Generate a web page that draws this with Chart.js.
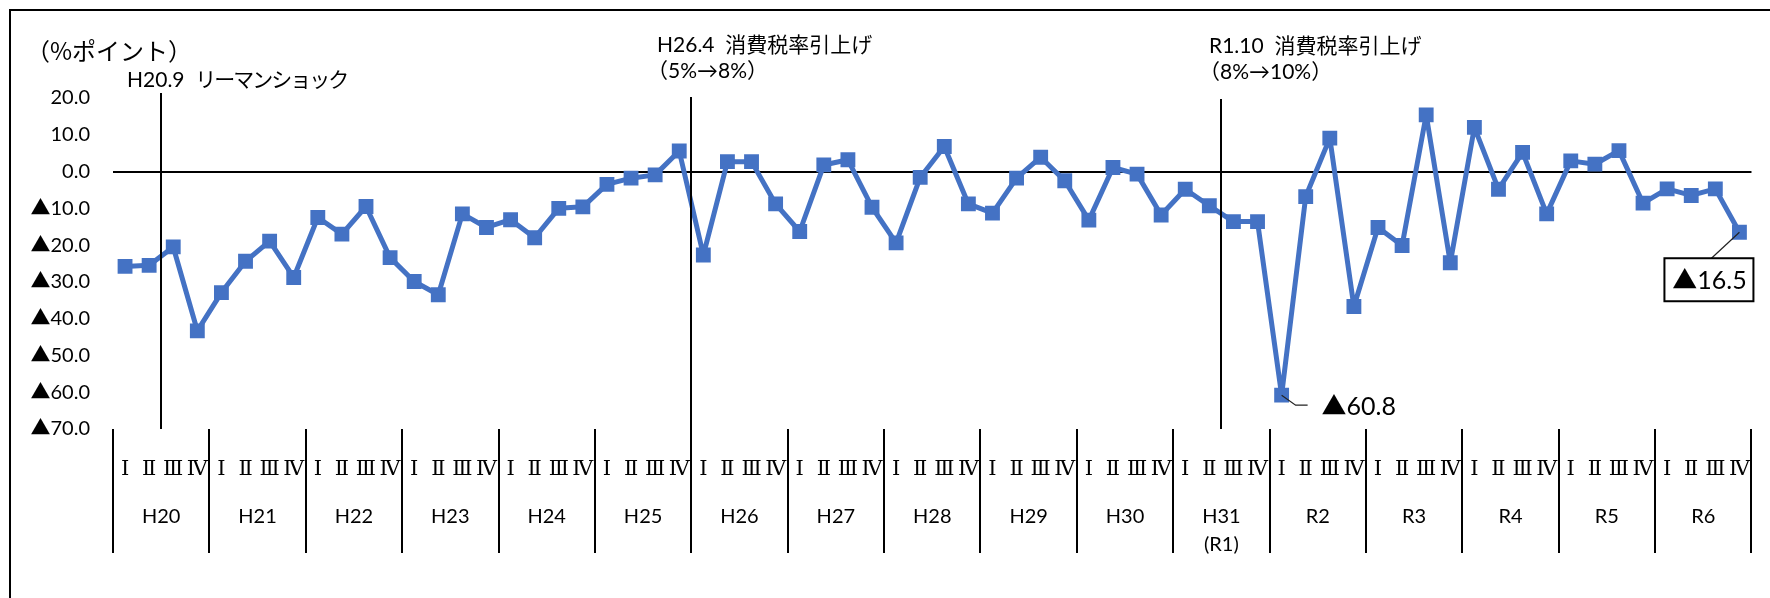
<!DOCTYPE html>
<html>
  <head>
    <meta charset="utf-8">
    <title>DI（%ポイント）四半期推移</title>
    <style>
      body { margin: 0; background: #fff; }
      #wrap { width: 1770px; height: 598px; position: relative; }
    </style>
  </head>
  <body>

    <!-- Chart.js -->
    <script src="https://cdn.jsdelivr.net/npm/chart.js@4.4.1/dist/chart.umd.min.js"></script>

    <div id="wrap"><canvas id="diChart"></canvas></div>

    <script>

      // 年度（2段目のラベル）
      const years = ['H20', 'H21', 'H22', 'H23', 'H24', 'H25', 'H26', 'H27', 'H28', 'H29', 'H30',
                     ['H31', '(R1)'], 'R2', 'R3', 'R4', 'R5', 'R6'];

      // 四半期（1段目のラベル）
      const quarters = ['Ⅰ', 'Ⅱ', 'Ⅲ', 'Ⅳ'];

      // DI値（%ポイント）
      const values = [
        -25.8, -25.5, -20.5, -43.3,   // H20
        -32.9, -24.4, -18.9, -28.8,   // H21
        -12.5, -17.0,  -9.5, -23.4,   // H22
        -29.9, -33.5, -11.5, -15.2,   // H23
        -13.1, -18.0, -10.0,  -9.6,   // H24
         -3.5,  -1.8,  -0.9,   5.6,   // H25
        -22.7,   2.7,   2.7,  -8.8,   // H26
        -16.3,   1.8,   3.2,  -9.7,   // H27
        -19.4,  -1.6,   6.8,  -8.8,   // H28
        -11.3,  -1.8,   3.9,  -2.5,   // H29
        -13.2,   1.1,  -0.7, -11.8,   // H30
         -4.8,  -9.3, -13.6, -13.6,   // H31(R1)
        -60.8,  -6.8,   9.1, -36.7,   // R2
        -15.2, -20.1,  15.4, -24.8,   // R3
         12.0,  -4.8,   5.2, -11.5,   // R4
          2.9,   2.0,   5.7,  -8.6,   // R5
         -4.7,  -6.5,  -4.7, -16.5    // R6
      ];

      // y軸の目盛
      const yTickValues = [20, 10, 0, -10, -20, -30, -40, -50, -60, -70];

      // 出来事の縦線（四半期の位置）と文言
      const eventPos = [1.5, 23.5, 45.5];
      const eventText = [
        ['H20.9  リーマンショック'],
        ['H26.4  消費税率引上げ', '（5%→8%）'],
        ['R1.10  消費税率引上げ', '（8%→10%）']
      ];

      // 値ラベルを付ける点
      const calloutIdx = [48, 67];

      const categories = years.flatMap(y => quarters.map(q => [].concat(y).join('') + q));

      const FONT = "Lato, 'Noto Sans CJK JP', sans-serif";
      const JP = "'Noto Sans CJK JP', sans-serif";

      // ▲表記
      function fmt(v) {
        return v < 0 ? '▲' + Math.abs(v).toFixed(1) : v.toFixed(1);
      }

      // 枠・区切り線・注記
      const decor = {
        id: 'decor',
        beforeDraw(chart) {
          const c = chart.ctx;
          c.save();
          c.strokeStyle = '#000';
          c.lineWidth = 2;
          c.strokeRect(10, 10, 1900, 800);
          c.restore();
        },
        afterDatasetsDraw(chart) {
          const c = chart.ctx;
          const x = chart.scales.x;
          const area = chart.chartArea;
          c.save();

          // 年度の区切り
          c.strokeStyle = '#000';
          c.lineWidth = 2;
          for (let k = 0; k <= years.length; k++) {
            const px = Math.round(x.getPixelForValue(k * 4 - 0.5));
            c.beginPath();
            c.moveTo(px, area.bottom);
            c.lineTo(px, area.bottom + 124);
            c.stroke();
          }

          // 出来事の縦線と文言
          const textX = [-34, -34, -12];
          const textY = [80, 45, 46];
          const lineTop = [93, 97, 99];
          eventPos.forEach((p, i) => {
            const px = Math.round(x.getPixelForValue(p));
            c.beginPath();
            c.moveTo(px, lineTop[i]);
            c.lineTo(px, area.bottom);
            c.stroke();
            c.fillStyle = '#000';
            c.textBaseline = 'middle';
            c.textAlign = 'left';
            c.font = '21px ' + FONT;
            eventText[i].forEach((t, j) => {
              const tx = px + textX[i] + (t.startsWith('（') ? -10 : 0);
              const ty = textY[i] + j * 26;
              if (t.includes('リーマン')) {
                // カタカナ部分だけ少し詰める
                const [head, tail] = t.split('  ');
                c.fillText(head, tx, ty);
                const w = c.measureText(head + '  ').width;
                c.letterSpacing = '-2px';
                c.fillText(tail, tx + w, ty);
                c.letterSpacing = '0px';
              } else {
                c.fillText(t, tx, ty);
              }
            });
          });

          // 軸タイトル
          c.font = '24px ' + JP;
          c.fillText('（%ポイント）', 26, 51);

          // 値ラベル
          const meta = chart.getDatasetMeta(0);
          const p1 = meta.data[calloutIdx[0]];
          c.strokeStyle = '#222';
          c.lineWidth = 1.2;
          c.beginPath();
          c.moveTo(p1.x, p1.y);
          c.lineTo(p1.x + 14, p1.y + 10);
          c.lineTo(p1.x + 26, p1.y + 10);
          c.stroke();
          c.font = '25px ' + FONT;
          c.textAlign = 'left';
          c.fillText(fmt(values[calloutIdx[0]]), p1.x + 40, p1.y + 12);

          const p2 = meta.data[calloutIdx[1]];
          c.beginPath();
          c.moveTo(p2.x, p2.y);
          c.lineTo(p2.x - 28, p2.y + 26);
          c.stroke();
          c.lineWidth = 2;
          c.strokeStyle = '#000';
          c.fillStyle = '#fff';
          c.fillRect(p2.x - 75, p2.y + 26, 89, 43);
          c.strokeRect(p2.x - 75, p2.y + 26, 89, 43);
          c.fillStyle = '#000';
          c.textAlign = 'center';
          c.fillText(fmt(values[calloutIdx[1]]), p2.x - 30, p2.y + 49);

          c.restore();
        }
      };

      const ctx = document.getElementById('diChart').getContext('2d');

      const chart = new Chart(ctx, {
        type: 'line',
        data: {
          labels: categories,
          datasets: [{
            data: values,
            borderColor: '#4472C4',
            backgroundColor: '#4472C4',
            borderWidth: 5,
            borderJoinStyle: 'round',
            pointStyle: 'rect',
            pointRadius: 10.5,
            pointBorderWidth: 0,
            pointBackgroundColor: '#4472C4',
            tension: 0
          }]
        },
        options: {
          responsive: true,
          maintainAspectRatio: false,
          animation: false,
          layout: { padding: { top: 98, right: 9, left: 0, bottom: 0 } },
          plugins: {
            legend: { display: false },
            tooltip: { enabled: false }
          },
          scales: {
            x: {
              type: 'category',
              weight: 0,
              offset: true,
              grid: { display: false },
              border: { display: false },
              ticks: {
                autoSkip: false,
                maxRotation: 0,
                padding: 20,
                color: '#000',
                font: { family: "'DejaVu Serif', serif", size: 21, lineHeight: 1.2 },
                callback: (v, i) => quarters[i % 4]
              },
              afterFit: s => { s.height = 55; }
            },
            x2: {
              type: 'category',
              position: 'bottom',
              weight: 1,
              labels: years,
              offset: true,
              grid: { display: false },
              border: { display: false },
              ticks: {
                autoSkip: false,
                maxRotation: 0,
                padding: 11,
                color: '#000',
                font: { family: FONT, size: 20, lineHeight: 1.4 }
              },
              afterFit: s => { s.height = 114; }
            },
            y: {
              min: Math.min(...yTickValues),
              max: Math.max(...yTickValues),
              border: { display: false },
              grid: {
                drawTicks: false,
                lineWidth: 2,
                color: c => c.tick && c.tick.value === 0 ? '#000' : 'rgba(0,0,0,0)'
              },
              afterBuildTicks: s => { s.ticks = yTickValues.map(v => ({ value: v })); },
              ticks: {
                padding: 23,
                color: '#000',
                font: { family: FONT, size: 20 },
                callback: v => fmt(v)
              },
              afterFit: s => { s.width = 113; }
            }
          }
        },
        plugins: [decor]
      });

    </script>
  </body>
</html>
